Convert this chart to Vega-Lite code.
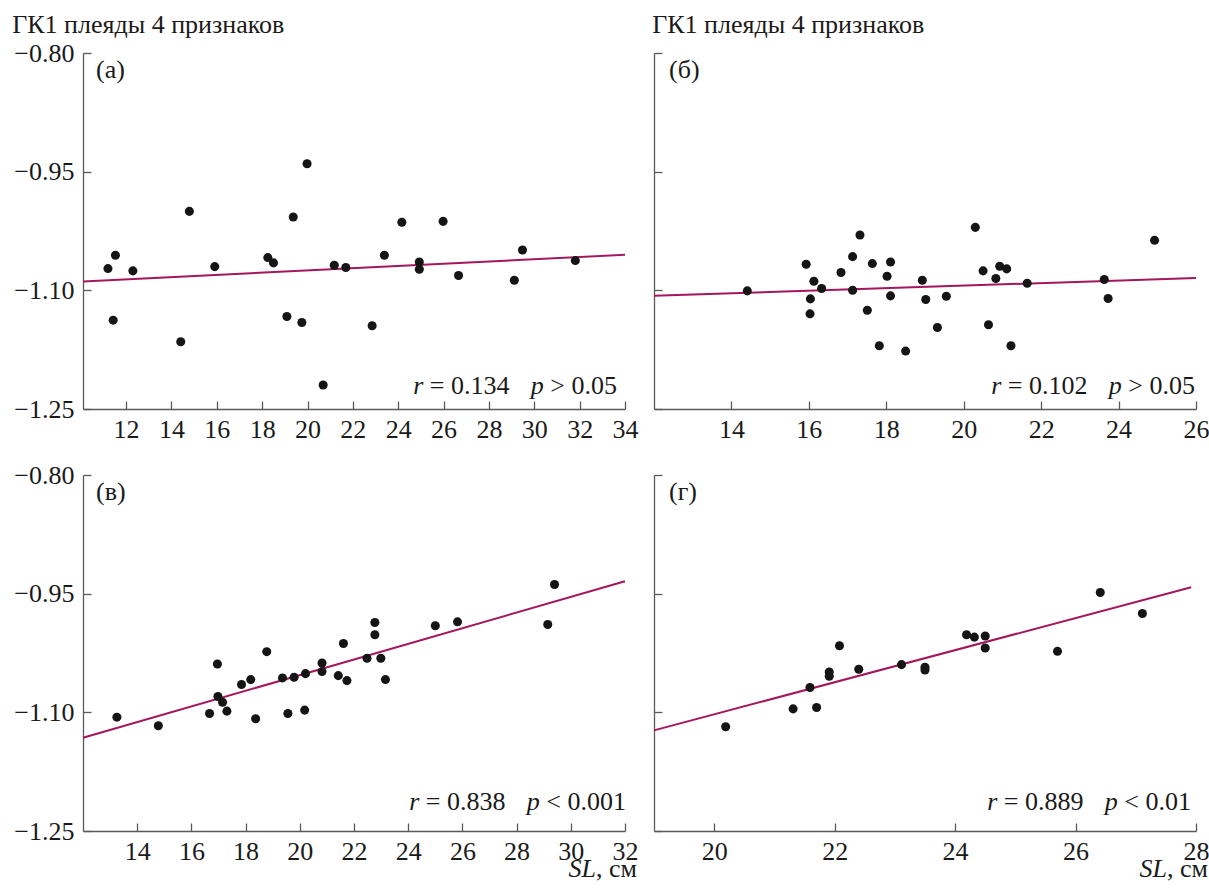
{
  "$schema": "https://vega.github.io/schema/vega-lite/v6.json",
  "background": "white",
  "padding": {"left": 11, "top": 11, "right": 0, "bottom": 0},
  "config": {
    "font": "Liberation Serif",
    "view": {"stroke": null},
    "style": {"guide-label": {"font": "Liberation Serif"}, "guide-title": {"font": "Liberation Serif"}},
    "axis": {"grid": false, "domainColor": "#5a5a5a", "tickColor": "#5a5a5a", "domainWidth": 1.3, "tickWidth": 1.3, "tickSize": -8, "labelFont": "Liberation Serif", "labelFontSize": 26, "labelColor": "#1a1a1a", "labelFlush": false, "labelOverlap": false, "titleFont": "Liberation Serif", "titleFontSize": 26, "titleFontWeight": "normal", "titleColor": "#1a1a1a"},
    "axisX": {"labelPadding": 15},
    "axisY": {"labelPadding": 17, "titleAngle": 0, "titleAlign": "left", "titleBaseline": "alphabetic"},
    "text": {"font": "Liberation Serif", "fontSize": 26, "color": "#1a1a1a"}
  },
  "datasets": {
    "pts": [
      {"panel": "a", "x": 11.2, "y": -1.0725}, {"panel": "a", "x": 11.53, "y": -1.0557}, {"panel": "a", "x": 11.43, "y": -1.1377}, {"panel": "a", "x": 12.3, "y": -1.0754}, {"panel": "a", "x": 14.41, "y": -1.165}, {"panel": "a", "x": 14.79, "y": -1.0002}, {"panel": "a", "x": 15.91, "y": -1.07}, {"panel": "a", "x": 18.25, "y": -1.0586}, {"panel": "a", "x": 18.5, "y": -1.0653}, {"panel": "a", "x": 19.09, "y": -1.1331}, {"panel": "a", "x": 19.37, "y": -1.0073}, {"panel": "a", "x": 19.75, "y": -1.1406}, {"panel": "a", "x": 19.98, "y": -0.94}, {"panel": "a", "x": 20.69, "y": -1.2197}, {"panel": "a", "x": 21.18, "y": -1.0683}, {"panel": "a", "x": 21.69, "y": -1.0712}, {"panel": "a", "x": 22.85, "y": -1.1448}, {"panel": "a", "x": 23.39, "y": -1.0557}, {"panel": "a", "x": 24.16, "y": -1.014}, {"panel": "a", "x": 24.93, "y": -1.0641}, {"panel": "a", "x": 24.93, "y": -1.0733}, {"panel": "a", "x": 25.98, "y": -1.0128}, {"panel": "a", "x": 26.66, "y": -1.0813}, {"panel": "a", "x": 29.12, "y": -1.0872}, {"panel": "a", "x": 29.48, "y": -1.049}, {"panel": "a", "x": 31.81, "y": -1.0624},
      {"panel": "b", "x": 14.41, "y": -1.1007}, {"panel": "b", "x": 15.93, "y": -1.067}, {"panel": "b", "x": 16.13, "y": -1.0885}, {"panel": "b", "x": 16.33, "y": -1.0977}, {"panel": "b", "x": 16.04, "y": -1.1108}, {"panel": "b", "x": 16.03, "y": -1.1297}, {"panel": "b", "x": 16.83, "y": -1.0775}, {"panel": "b", "x": 17.13, "y": -1.0574}, {"panel": "b", "x": 17.13, "y": -1.0998}, {"panel": "b", "x": 17.32, "y": -1.03}, {"panel": "b", "x": 17.51, "y": -1.1251}, {"panel": "b", "x": 17.64, "y": -1.0662}, {"panel": "b", "x": 17.82, "y": -1.1701}, {"panel": "b", "x": 18.02, "y": -1.0822}, {"panel": "b", "x": 18.11, "y": -1.0641}, {"panel": "b", "x": 18.11, "y": -1.107}, {"panel": "b", "x": 18.5, "y": -1.1768}, {"panel": "b", "x": 18.93, "y": -1.0872}, {"panel": "b", "x": 19.02, "y": -1.1116}, {"panel": "b", "x": 19.32, "y": -1.1469}, {"panel": "b", "x": 19.55, "y": -1.1074}, {"panel": "b", "x": 20.3, "y": -1.0204}, {"panel": "b", "x": 20.5, "y": -1.0754}, {"panel": "b", "x": 20.64, "y": -1.1436}, {"panel": "b", "x": 20.83, "y": -1.0851}, {"panel": "b", "x": 20.93, "y": -1.0696}, {"panel": "b", "x": 21.11, "y": -1.0729}, {"panel": "b", "x": 21.22, "y": -1.1701}, {"panel": "b", "x": 21.64, "y": -1.091}, {"panel": "b", "x": 23.63, "y": -1.0864}, {"panel": "b", "x": 23.73, "y": -1.1103}, {"panel": "b", "x": 24.93, "y": -1.0368},
      {"panel": "c", "x": 13.25, "y": -1.1061}, {"panel": "c", "x": 14.78, "y": -1.117}, {"panel": "c", "x": 16.67, "y": -1.1014}, {"panel": "c", "x": 16.96, "y": -1.0389}, {"panel": "c", "x": 16.98, "y": -1.08}, {"panel": "c", "x": 17.15, "y": -1.0872}, {"panel": "c", "x": 17.31, "y": -1.0985}, {"panel": "c", "x": 17.85, "y": -1.0649}, {"panel": "c", "x": 18.19, "y": -1.0586}, {"panel": "c", "x": 18.37, "y": -1.1081}, {"panel": "c", "x": 18.78, "y": -1.0233}, {"panel": "c", "x": 19.36, "y": -1.0565}, {"panel": "c", "x": 19.56, "y": -1.1014}, {"panel": "c", "x": 19.79, "y": -1.0557}, {"panel": "c", "x": 20.18, "y": -1.0972}, {"panel": "c", "x": 20.21, "y": -1.0511}, {"panel": "c", "x": 20.82, "y": -1.0376}, {"panel": "c", "x": 20.82, "y": -1.0485}, {"panel": "c", "x": 21.42, "y": -1.0536}, {"panel": "c", "x": 21.61, "y": -1.0129}, {"panel": "c", "x": 21.74, "y": -1.0599}, {"panel": "c", "x": 22.48, "y": -1.0317}, {"panel": "c", "x": 22.77, "y": -0.9864}, {"panel": "c", "x": 22.77, "y": -1.0019}, {"panel": "c", "x": 22.99, "y": -1.0317}, {"panel": "c", "x": 23.16, "y": -1.0586}, {"panel": "c", "x": 25.0, "y": -0.9906}, {"panel": "c", "x": 25.82, "y": -0.9856}, {"panel": "c", "x": 29.15, "y": -0.9889}, {"panel": "c", "x": 29.4, "y": -0.9385},
      {"panel": "d", "x": 20.19, "y": -1.1182}, {"panel": "d", "x": 21.31, "y": -1.0956}, {"panel": "d", "x": 21.7, "y": -1.0939}, {"panel": "d", "x": 21.59, "y": -1.0687}, {"panel": "d", "x": 21.91, "y": -1.0489}, {"panel": "d", "x": 21.91, "y": -1.0544}, {"panel": "d", "x": 22.08, "y": -1.0158}, {"panel": "d", "x": 22.4, "y": -1.0456}, {"panel": "d", "x": 23.11, "y": -1.0397}, {"panel": "d", "x": 23.5, "y": -1.0431}, {"panel": "d", "x": 23.5, "y": -1.0464}, {"panel": "d", "x": 24.19, "y": -1.0019}, {"panel": "d", "x": 24.32, "y": -1.0049}, {"panel": "d", "x": 24.5, "y": -1.0036}, {"panel": "d", "x": 24.5, "y": -1.0187}, {"panel": "d", "x": 25.7, "y": -1.0229}, {"panel": "d", "x": 26.41, "y": -0.9486}, {"panel": "d", "x": 27.11, "y": -0.9751}
    ],
    "fit": [
      {"panel": "a", "x": 10.1, "y": -1.0888}, {"panel": "a", "x": 34, "y": -1.0551},
      {"panel": "b", "x": 12, "y": -1.107}, {"panel": "b", "x": 26, "y": -1.0843},
      {"panel": "c", "x": 12, "y": -1.1321}, {"panel": "c", "x": 32, "y": -0.9343},
      {"panel": "d", "x": 19, "y": -1.1228}, {"panel": "d", "x": 27.92, "y": -0.9419}
    ],
    "notes": [
      {"panel": "a", "part": "lab", "x": 10.1, "y": -0.8, "label": "(а)"},
      {"panel": "a", "part": "p4", "x": 34, "y": -1.25, "label": "> 0.05"},
      {"panel": "a", "part": "p3", "x": 34, "y": -1.25, "label": "p"},
      {"panel": "a", "part": "p2", "x": 34, "y": -1.25, "label": "= 0.134"},
      {"panel": "a", "part": "p1", "x": 34, "y": -1.25, "label": "r"},
      {"panel": "b", "part": "lab", "x": 12, "y": -0.8, "label": "(б)"},
      {"panel": "b", "part": "p4", "x": 26, "y": -1.25, "label": "> 0.05"},
      {"panel": "b", "part": "p3", "x": 26, "y": -1.25, "label": "p"},
      {"panel": "b", "part": "p2", "x": 26, "y": -1.25, "label": "= 0.102"},
      {"panel": "b", "part": "p1", "x": 26, "y": -1.25, "label": "r"},
      {"panel": "c", "part": "lab", "x": 12, "y": -0.8, "label": "(в)"},
      {"panel": "c", "part": "p4", "x": 32, "y": -1.25, "label": "< 0.001"},
      {"panel": "c", "part": "p3", "x": 32, "y": -1.25, "label": "p"},
      {"panel": "c", "part": "p2", "x": 32, "y": -1.25, "label": "= 0.838"},
      {"panel": "c", "part": "p1", "x": 32, "y": -1.25, "label": "r"},
      {"panel": "c", "part": "u2", "x": 32, "y": -1.25, "label": ", см"},
      {"panel": "c", "part": "u1", "x": 32, "y": -1.25, "label": "SL"},
      {"panel": "d", "part": "lab", "x": 19, "y": -0.8, "label": "(г)"},
      {"panel": "d", "part": "p4", "x": 28, "y": -1.25, "label": "< 0.01"},
      {"panel": "d", "part": "p3", "x": 28, "y": -1.25, "label": "p"},
      {"panel": "d", "part": "p2", "x": 28, "y": -1.25, "label": "= 0.889"},
      {"panel": "d", "part": "p1", "x": 28, "y": -1.25, "label": "r"},
      {"panel": "d", "part": "u2", "x": 28, "y": -1.25, "label": ", см"},
      {"panel": "d", "part": "u1", "x": 28, "y": -1.25, "label": "SL"}
    ]
  },
  "columns": 2,
  "spacing": {"row": 66, "column": 29},
  "bounds": "flush",
  "concat": [
    {
      "width": 542, "height": 356,
      "encoding": {
        "x": {"field": "x", "type": "quantitative", "scale": {"domain": [10.1, 34], "nice": false, "zero": false}, "axis": {"values": [12, 14, 16, 18, 20, 22, 24, 26, 28, 30, 32, 34], "title": null, "labelFont": "Liberation Serif"}},
        "y": {"field": "y", "type": "quantitative", "scale": {"domain": [-1.25, -0.8], "nice": false, "zero": false}, "axis": {"values": [-0.8, -0.95, -1.1, -1.25], "format": ".2f", "labelFont": "Liberation Serif", "title": "ГК1 плеяды 4 признаков", "titleX": -71.3, "titleY": -20.5}},
        "text": {"field": "label", "type": "nominal"}
      },
      "layer": [
        {"data": {"name": "fit"}, "transform": [{"filter": "datum.panel === 'a'"}], "mark": {"type": "line", "color": "#a3175c", "strokeWidth": 2}},
        {"data": {"name": "pts"}, "transform": [{"filter": "datum.panel === 'a'"}], "mark": {"type": "circle", "color": "#151515", "size": 82, "opacity": 1}},
        {"data": {"name": "notes"}, "transform": [{"filter": "datum.panel === 'a' && datum.part === 'lab'"}], "mark": {"type": "text", "align": "left", "baseline": "middle", "dx": 13, "dy": 17}},
        {"data": {"name": "notes"}, "transform": [{"filter": "datum.panel === 'a' && datum.part === 'p4'"}], "mark": {"type": "text", "align": "right", "baseline": "alphabetic", "dx": -8, "dy": -15}},
        {"data": {"name": "notes"}, "transform": [{"filter": "datum.panel === 'a' && datum.part === 'p3'"}], "mark": {"type": "text", "fontStyle": "italic", "align": "right", "baseline": "alphabetic", "dx": -81.2, "dy": -15}},
        {"data": {"name": "notes"}, "transform": [{"filter": "datum.panel === 'a' && datum.part === 'p2'"}], "mark": {"type": "text", "align": "right", "baseline": "alphabetic", "dx": -115.5, "dy": -15}},
        {"data": {"name": "notes"}, "transform": [{"filter": "datum.panel === 'a' && datum.part === 'p1'"}], "mark": {"type": "text", "fontStyle": "italic", "align": "right", "baseline": "alphabetic", "dx": -201.7, "dy": -15}}
      ]
    },
    {
      "width": 542, "height": 356,
      "encoding": {
        "x": {"field": "x", "type": "quantitative", "scale": {"domain": [12, 26], "nice": false, "zero": false}, "axis": {"values": [14, 16, 18, 20, 22, 24, 26], "title": null, "labelFont": "Liberation Serif"}},
        "y": {"field": "y", "type": "quantitative", "scale": {"domain": [-1.25, -0.8], "nice": false, "zero": false}, "axis": {"values": [-0.8, -0.95, -1.1, -1.25], "labels": false, "title": "ГК1 плеяды 4 признаков", "titleX": -2.3, "titleY": -20.5}},
        "text": {"field": "label", "type": "nominal"}
      },
      "layer": [
        {"data": {"name": "fit"}, "transform": [{"filter": "datum.panel === 'b'"}], "mark": {"type": "line", "color": "#a3175c", "strokeWidth": 2}},
        {"data": {"name": "pts"}, "transform": [{"filter": "datum.panel === 'b'"}], "mark": {"type": "circle", "color": "#151515", "size": 82, "opacity": 1}},
        {"data": {"name": "notes"}, "transform": [{"filter": "datum.panel === 'b' && datum.part === 'lab'"}], "mark": {"type": "text", "align": "left", "baseline": "middle", "dx": 15, "dy": 17}},
        {"data": {"name": "notes"}, "transform": [{"filter": "datum.panel === 'b' && datum.part === 'p4'"}], "mark": {"type": "text", "align": "right", "baseline": "alphabetic", "dx": -1, "dy": -15}},
        {"data": {"name": "notes"}, "transform": [{"filter": "datum.panel === 'b' && datum.part === 'p3'"}], "mark": {"type": "text", "fontStyle": "italic", "align": "right", "baseline": "alphabetic", "dx": -74.2, "dy": -15}},
        {"data": {"name": "notes"}, "transform": [{"filter": "datum.panel === 'b' && datum.part === 'p2'"}], "mark": {"type": "text", "align": "right", "baseline": "alphabetic", "dx": -108.5, "dy": -15}},
        {"data": {"name": "notes"}, "transform": [{"filter": "datum.panel === 'b' && datum.part === 'p1'"}], "mark": {"type": "text", "fontStyle": "italic", "align": "right", "baseline": "alphabetic", "dx": -194.7, "dy": -15}}
      ]
    },
    {
      "width": 542, "height": 356,
      "encoding": {
        "x": {"field": "x", "type": "quantitative", "scale": {"domain": [12, 32], "nice": false, "zero": false}, "axis": {"values": [14, 16, 18, 20, 22, 24, 26, 28, 30, 32], "title": null, "labelFont": "Liberation Serif"}},
        "y": {"field": "y", "type": "quantitative", "scale": {"domain": [-1.25, -0.8], "nice": false, "zero": false}, "axis": {"values": [-0.8, -0.95, -1.1, -1.25], "format": ".2f", "labelFont": "Liberation Serif", "title": null}},
        "text": {"field": "label", "type": "nominal"}
      },
      "layer": [
        {"data": {"name": "fit"}, "transform": [{"filter": "datum.panel === 'c'"}], "mark": {"type": "line", "color": "#a3175c", "strokeWidth": 2}},
        {"data": {"name": "pts"}, "transform": [{"filter": "datum.panel === 'c'"}], "mark": {"type": "circle", "color": "#151515", "size": 82, "opacity": 1}},
        {"data": {"name": "notes"}, "transform": [{"filter": "datum.panel === 'c' && datum.part === 'lab'"}], "mark": {"type": "text", "align": "left", "baseline": "middle", "dx": 13, "dy": 17}},
        {"data": {"name": "notes"}, "transform": [{"filter": "datum.panel === 'c' && datum.part === 'p4'"}], "mark": {"type": "text", "align": "right", "baseline": "alphabetic", "dx": 1, "dy": -21}},
        {"data": {"name": "notes"}, "transform": [{"filter": "datum.panel === 'c' && datum.part === 'p3'"}], "mark": {"type": "text", "fontStyle": "italic", "align": "right", "baseline": "alphabetic", "dx": -85.2, "dy": -21}},
        {"data": {"name": "notes"}, "transform": [{"filter": "datum.panel === 'c' && datum.part === 'p2'"}], "mark": {"type": "text", "align": "right", "baseline": "alphabetic", "dx": -119.5, "dy": -21}},
        {"data": {"name": "notes"}, "transform": [{"filter": "datum.panel === 'c' && datum.part === 'p1'"}], "mark": {"type": "text", "fontStyle": "italic", "align": "right", "baseline": "alphabetic", "dx": -205.7, "dy": -21}},
        {"data": {"name": "notes"}, "transform": [{"filter": "datum.panel === 'c' && datum.part === 'u2'"}], "mark": {"type": "text", "align": "right", "baseline": "alphabetic", "dx": 12, "dy": 46}},
        {"data": {"name": "notes"}, "transform": [{"filter": "datum.panel === 'c' && datum.part === 'u1'"}], "mark": {"type": "text", "fontStyle": "italic", "align": "right", "baseline": "alphabetic", "dx": -29, "dy": 46}}
      ]
    },
    {
      "width": 542, "height": 356,
      "encoding": {
        "x": {"field": "x", "type": "quantitative", "scale": {"domain": [19, 28], "nice": false, "zero": false}, "axis": {"values": [20, 22, 24, 26, 28], "title": null, "labelFont": "Liberation Serif"}},
        "y": {"field": "y", "type": "quantitative", "scale": {"domain": [-1.25, -0.8], "nice": false, "zero": false}, "axis": {"values": [-0.8, -0.95, -1.1, -1.25], "labels": false, "title": null}},
        "text": {"field": "label", "type": "nominal"}
      },
      "layer": [
        {"data": {"name": "fit"}, "transform": [{"filter": "datum.panel === 'd'"}], "mark": {"type": "line", "color": "#a3175c", "strokeWidth": 2}},
        {"data": {"name": "pts"}, "transform": [{"filter": "datum.panel === 'd'"}], "mark": {"type": "circle", "color": "#151515", "size": 82, "opacity": 1}},
        {"data": {"name": "notes"}, "transform": [{"filter": "datum.panel === 'd' && datum.part === 'lab'"}], "mark": {"type": "text", "align": "left", "baseline": "middle", "dx": 15, "dy": 17}},
        {"data": {"name": "notes"}, "transform": [{"filter": "datum.panel === 'd' && datum.part === 'p4'"}], "mark": {"type": "text", "align": "right", "baseline": "alphabetic", "dx": -5, "dy": -21}},
        {"data": {"name": "notes"}, "transform": [{"filter": "datum.panel === 'd' && datum.part === 'p3'"}], "mark": {"type": "text", "fontStyle": "italic", "align": "right", "baseline": "alphabetic", "dx": -78.2, "dy": -21}},
        {"data": {"name": "notes"}, "transform": [{"filter": "datum.panel === 'd' && datum.part === 'p2'"}], "mark": {"type": "text", "align": "right", "baseline": "alphabetic", "dx": -112.5, "dy": -21}},
        {"data": {"name": "notes"}, "transform": [{"filter": "datum.panel === 'd' && datum.part === 'p1'"}], "mark": {"type": "text", "fontStyle": "italic", "align": "right", "baseline": "alphabetic", "dx": -198.7, "dy": -21}},
        {"data": {"name": "notes"}, "transform": [{"filter": "datum.panel === 'd' && datum.part === 'u2'"}], "mark": {"type": "text", "align": "right", "baseline": "alphabetic", "dx": 12, "dy": 46}},
        {"data": {"name": "notes"}, "transform": [{"filter": "datum.panel === 'd' && datum.part === 'u1'"}], "mark": {"type": "text", "fontStyle": "italic", "align": "right", "baseline": "alphabetic", "dx": -29, "dy": 46}}
      ]
    }
  ]
}
